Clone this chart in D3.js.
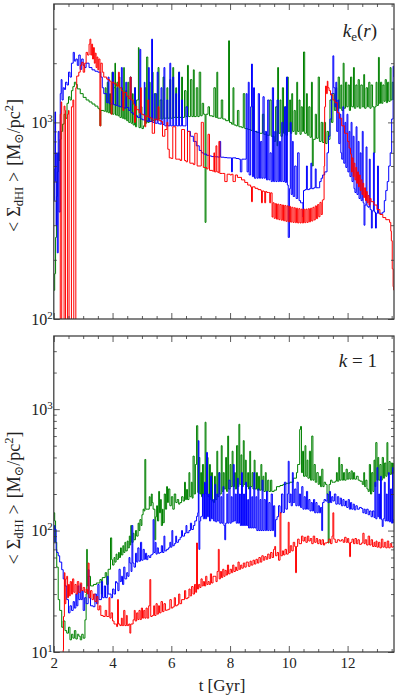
<!DOCTYPE html>
<html>
<head>
<meta charset="utf-8">
<script src="https://cdn.jsdelivr.net/npm/d3@7"></script>
<style>
  body { margin: 0; background: #fff; }
  svg { display: block; }
  svg text { font-family: 'Liberation Serif', 'DejaVu Serif', 'Noto Serif', 'Times New Roman', serif; }
</style>
</head>
<body>
<div id="chart"></div>
<script>
// ---- data: [t (Gyr), <Sigma_dHI> (Msun/pc^2)] ----
const topGreen = [[2.00,140],[2.03,170],[2.06,260],[2.09,420],[2.12,560],[2.15,700],[2.18,640],[2.21,820],[2.25,900],[2.3,980],[2.35,1100],[2.4,1050],[2.45,1250],[2.5,1350],[2.55,1300],[2.6,1450],[2.65,1520],[2.7,1600],[2.75,1560],[2.8,1480],[2.9,1400],[3.0,1340],[3.1,1300],[3.2,1270],[3.3,1240],[3.4,1210],[3.5,1180],[3.55,1160],[3.57,960],[3.6,1150],[3.7,1140],
  [3.75,1500],[3.78,1130],[3.82,1600],[3.85,1120],[3.9,1400],[3.93,1110],[3.98,1800],[4.0,1100],[4.05,1500],[4.08,2000],[4.1,1090],[4.15,1600],[4.18,1080],[4.22,1700],[4.25,1060],[4.3,1500],[4.33,1050],[4.38,1900],[4.4,1040],[4.45,1450],[4.48,1020],[4.52,1600],[4.55,1000],[4.6,1700],[4.63,990],[4.68,1400],[4.7,970],[4.75,1500],[4.78,950],[4.82,1300],[4.88,2400],[4.9,940],[4.95,1200],[5.0,930],[5.05,960],[5.1,1500],[5.13,990],[5.16,2150],[5.2,1000],[5.25,1600],[5.28,1010],[5.35,1800],[5.38,1020],[5.45,1400],[5.5,1030],[5.55,1900],[5.58,1040],[5.62,1300],[5.68,1040],[5.72,1700],[5.75,1050],[5.8,1050],[5.85,1500],[5.88,1050],[5.95,1650],[5.98,1050],[6.05,1900],[6.08,1060],[6.15,1500],[6.18,1060],[6.25,1800],[6.28,1060],[6.35,1700],[6.38,1060],[6.45,1450],[6.5,1070],[6.55,1950],[6.58,1070],[6.65,1650],[6.7,1070],[6.75,1850],[6.78,1070],[6.85,1500],[6.9,1070],[6.95,1800],[7.0,1080],[7.05,1250],[7.1,1100],[7.15,310],[7.18,1100],[7.25,1200],[7.3,1080],[7.4,1070],[7.45,1500],[7.5,1060],[7.55,1800],[7.58,1050],[7.65,1050],[7.7,1300],[7.75,1040],[7.85,1020],[7.95,2600],[7.98,1000],[8.05,980],[8.1,1500],[8.13,970],[8.2,960],[8.25,1150],[8.3,950],[8.4,940],[8.45,1400],[8.5,930],[8.6,920],[8.7,910],[8.75,1200],[8.8,900],[8.9,890],[9.0,880],[9.1,1100],[9.15,870],[9.25,860],[9.35,1300],[9.4,850],[9.5,800],[9.55,1200],[9.6,760],[9.62,1900],[9.65,880],[9.7,1300],[9.73,850],[9.78,1500],[9.82,880],[9.87,1200],[9.9,860],[9.95,1700],[9.98,900],[10.03,1300],[10.06,880],[10.1,1400],[10.13,900],[10.18,1150],[10.22,870],[10.27,1600],[10.3,900],[10.35,1300],[10.38,870],[10.42,1200],[10.46,900],[10.5,2280],[10.54,880],[10.6,1400],[10.63,860],[10.68,1200],[10.72,840],[10.77,1600],[10.8,600],[10.83,820],[10.9,1100],[10.94,830],[11.0,1700],[11.04,800],[11.1,1000],[11.15,790],[11.2,1000],[11.25,780],[11.3,900],[11.35,820],[11.4,1300],[11.45,1000],[11.5,1400],[11.55,1150],[11.6,1500],[11.63,1150],[11.68,1700],[11.72,1180],[11.77,1550],[11.8,1150],[11.85,2000],[11.88,1180],[11.93,1600],[11.97,1200],[12.02,1550],[12.06,1150],[12.1,1700],[12.14,1200],[12.2,1900],[12.23,1180],[12.28,1550],[12.32,1200],[12.36,1650],[12.4,1180],[12.45,1550],[12.5,1200],[12.55,1750],[12.58,1180],[12.63,1500],[12.68,1200],[12.72,1600],[12.76,1180],[12.8,1550],[12.85,1200],[12.9,700],[12.93,1200],[12.97,1600],[13.0,1220],[13.05,2140],[13.08,1250],[13.12,1600],[13.16,1250],[13.2,1550],[13.24,1280],[13.28,1650],[13.32,1260],[13.36,1600],[13.4,1280],[13.45,1900],[13.48,1300],[13.52,1600],[13.57,1300]]

const topBlue = [[2.0,400],[2.02,580],[2.04,1130],[2.06,500],[2.08,300],[2.1,700],[2.12,217],[2.15,900],[2.18,350],[2.22,1400],[2.25,1650],[2.28,1300],[2.32,1500],[2.36,1470],[2.4,1600],[2.45,1550],[2.5,1800],[2.55,1700],[2.6,2000],[2.66,2270],[2.7,2050],[2.75,2100],[2.8,1950],[2.85,2200],[2.9,1860],[2.95,2100],[3.0,1950],[3.05,1900],[3.1,2000],[3.2,1900],[3.3,1850],[3.4,1820],[3.5,1800],[3.6,1700],[3.65,1500],[3.7,1400],[3.8,1260],[3.85,1700],[3.88,1250],[3.95,1240],[4.0,1800],[4.03,1230],[4.1,1220],[4.15,1500],[4.18,1210],[4.25,1200],[4.3,1900],[4.33,1190],[4.4,1180],[4.45,1600],[4.48,1190],[4.55,1150],[4.6,1700],[4.63,1120],[4.7,1100],[4.75,1500],[4.78,1080],[4.85,1060],[4.93,2350],[4.96,1040],[5.02,1030],[5.08,1600],[5.1,1020],[5.18,1010],[5.22,1900],[5.25,1010],[5.33,2650],[5.36,1000],[5.42,1400],[5.45,990],[5.52,1800],[5.55,985],[5.6,980],[5.65,1500],[5.68,975],[5.75,1900],[5.78,960],[5.85,1300],[5.88,960],[5.95,2000],[5.98,960],[6.05,1700],[6.08,960],[6.15,1400],[6.18,960],[6.25,1800],[6.28,960],[6.35,1300],[6.38,960],[6.46,960],[6.5,1200],[6.55,900],[6.65,850],[6.75,800],[6.85,760],[6.95,720],[7.03,700],[7.1,690],[7.2,680],[7.3,675],[7.37,670],[7.5,668],[7.6,665],[7.65,800],[7.68,665],[7.8,662],[7.9,660],[8.0,660],[8.05,560],[8.08,660],[8.2,655],[8.3,650],[8.35,560],[8.4,650],[8.5,650],[8.55,1400],[8.58,560],[8.62,1600],[8.65,540],[8.7,1200],[8.73,1980],[8.76,530],[8.8,1500],[8.83,520],[8.88,900],[8.92,520],[8.96,1400],[9.0,520],[9.04,800],[9.08,520],[9.12,1350],[9.16,520],[9.2,900],[9.24,510],[9.28,1300],[9.32,510],[9.36,700],[9.4,500],[9.44,1500],[9.48,500],[9.52,900],[9.56,500],[9.6,1300],[9.64,500],[9.68,800],[9.72,500],[9.76,1000],[9.8,500],[9.85,1200],[9.88,495],[9.92,1700],[9.95,480],[9.98,260],[10.02,460],[10.05,1000],[10.08,430],[10.12,800],[10.15,420],[10.2,600],[10.25,410],[10.3,700],[10.35,400],[10.4,390],[10.43,390],[10.48,330],[10.5,450],[10.55,455],[10.6,600],[10.63,455],[10.7,460],[10.75,620],[10.78,460],[10.85,465],[10.9,580],[10.93,465],[11.0,465],[11.05,500],[11.1,520],[11.15,540],[11.22,560],[11.3,700],[11.35,850],[11.4,1040],[11.45,1400],[11.5,2180],[11.53,1500],[11.57,1200],[11.6,1600],[11.63,900],[11.67,1300],[11.7,780],[11.74,1100],[11.77,700],[11.8,650],[11.84,1200],[11.87,620],[11.91,1000],[11.94,590],[11.98,1100],[12.01,560],[12.05,900],[12.08,530],[12.12,1000],[12.15,500],[12.19,850],[12.22,460],[12.25,440],[12.29,950],[12.32,430],[12.36,800],[12.39,410],[12.43,700],[12.46,400],[12.5,900],[12.53,390],[12.56,300],[12.59,380],[12.63,750],[12.66,375],[12.7,370],[12.74,650],[12.77,360],[12.81,290],[12.84,355],[12.88,700],[12.91,350],[12.95,290],[12.98,345],[13.02,600],[13.05,345],[13.1,345],[13.15,345],[13.2,350],[13.25,400],[13.3,450],[13.35,500],[13.4,600],[13.45,700],[13.5,1040],[13.55,1930],[13.57,1700]]

const topRed = [[2.15,60],[2.2,60],[2.22,1100],[2.25,1270],[2.27,60],[2.33,60],[2.35,1210],[2.38,1150],[2.4,60],[2.45,60],[2.47,1100],[2.5,1150],[2.52,60],[2.58,60],[2.6,1200],[2.65,1300],[2.68,60],[2.73,60],[2.75,1500],[2.78,1720],[2.85,1800],[2.9,1950],[2.95,2020],[3.0,1800],[3.05,2000],[3.1,2270],[3.15,2200],[3.2,2500],[3.23,2650],[3.26,2200],[3.29,2500],[3.32,2100],[3.35,2400],[3.38,2000],[3.41,2250],[3.44,1900],[3.47,2150],[3.5,1850],[3.53,2100],[3.57,960],[3.6,2000],[3.65,1800],[3.7,1700],[3.8,1660],[3.85,1650],[3.9,1620],[3.95,1100],[3.98,1600],[4.05,1570],[4.14,1530],[4.2,1800],[4.23,1500],[4.3,1450],[4.35,1150],[4.38,1420],[4.48,1360],[4.55,1320],[4.6,1700],[4.63,1300],[4.7,1240],[4.75,1000],[4.78,1210],[4.82,1160],[4.9,1120],[4.95,1500],[4.98,1100],[5.05,1090],[5.1,950],[5.13,1080],[5.16,1070],[5.2,1300],[5.23,1060],[5.3,1050],[5.35,880],[5.4,880],[5.43,1040],[5.5,1030],[5.55,1200],[5.58,1020],[5.65,1010],[5.7,850],[5.75,850],[5.78,920],[5.85,1000],[5.88,730],[5.93,660],[6.0,655],[6.05,950],[6.1,950],[6.15,650],[6.22,650],[6.3,640],[6.35,920],[6.4,920],[6.45,640],[6.5,630],[6.55,900],[6.6,900],[6.63,620],[6.75,610],[6.8,880],[6.85,880],[6.88,600],[6.98,600],[7.02,1000],[7.06,1000],[7.09,590],[7.2,580],[7.25,870],[7.28,870],[7.3,570],[7.4,565],[7.45,700],[7.47,560],[7.52,760],[7.55,560],[7.6,555],[7.62,800],[7.65,550],[7.75,550],[7.82,500],[7.86,500],[7.9,545],[8.0,540],[8.05,545],[8.1,500],[8.14,500],[8.18,540],[8.25,525],[8.39,510],[8.5,495],[8.6,480],[8.7,470],[8.73,395],[8.76,470],[8.85,462],[8.95,455],[9.05,450],[9.07,390],[9.1,448],[9.15,445],[9.18,390],[9.21,445],[9.25,440],[9.3,440],[9.35,390],[9.38,438],
  [9.43,330],[9.46,390],[9.5,325],[9.54,386],[9.58,322],[9.62,384],[9.66,320],[9.7,382],[9.74,318],[9.78,380],[9.82,316],[9.86,378],[9.9,314],[9.94,376],[9.98,312],[10.02,374],[10.06,311],[10.1,370],[10.14,310],[10.18,368],[10.22,309],[10.26,366],[10.3,308],[10.34,364],[10.38,308],[10.42,362],[10.46,308],[10.5,362],[10.54,309],[10.58,362],[10.62,310],[10.66,364],[10.7,312],[10.74,366],[10.78,315],[10.82,370],[10.86,319],[10.9,376],[10.94,324],[10.98,382],[11.02,331],[11.06,392],[11.1,340],[11.14,402],[11.17,405],
  [11.2,600],[11.22,1200],[11.25,1530],[11.28,1400],[11.31,1620],[11.33,1500],[11.37,1450],[11.42,1380],[11.5,1300],[11.57,1260],[11.65,1120],[11.72,1050],[11.8,960],[11.9,880],[12.0,800],[12.05,740],[12.1,690],[12.13,560],[12.16,660],[12.19,530],[12.22,620],[12.25,510],[12.28,590],[12.31,490],[12.34,560],[12.37,470],[12.4,540],[12.43,450],[12.46,510],[12.49,430],[12.52,490],[12.55,415],[12.58,465],[12.61,400],[12.64,445],[12.67,390],[12.7,425],[12.73,380],[12.76,410],[12.8,395],[12.9,380],[13.0,360],[13.1,340],[13.2,328],[13.3,320],[13.43,310],[13.47,280],[13.49,250],[13.52,180],[13.55,146],[13.57,140]]

const botGreen = [[2.0,140],[2.03,120],[2.06,80],[2.1,50],[2.15,27],[2.2,22],[2.27,16],[2.32,18],[2.38,15],[2.44,14.3],[2.5,16],[2.55,12.6],[2.6,14],[2.65,13],[2.7,15],[2.75,12.8],[2.8,14],[2.85,13.5],[2.9,12.6],[2.95,14],[3.0,13],[3.06,18.4],[3.1,30],[3.12,70],[3.14,35],[3.17,42],[3.25,35],[3.35,36],[3.45,37],[3.57,39.5],[3.62,30],[3.65,41],[3.75,45],[3.8,36],[3.85,48],[3.93,87],[3.97,57.6],[4.0,52],[4.05,60],[4.08,55],[4.12,64],[4.15,58],[4.2,66],[4.23,60],[4.27,72],[4.3,63],[4.35,75],[4.38,66],[4.42,80],[4.45,68],[4.5,82],[4.53,72],[4.57,90],[4.6,76],[4.62,110],[4.65,80],[4.7,95],[4.73,84],[4.78,100],[4.82,90],[4.87,115],[4.9,100],[4.93,123],[4.97,110],[5.0,135],[5.04,150],[5.07,145],[5.1,385],[5.13,150],[5.2,150],[5.25,190],[5.28,160],[5.32,200],[5.35,170],[5.38,150],[5.44,84],[5.47,130],[5.5,160],[5.53,120],[5.57,210],[5.6,140],[5.63,180],[5.66,110],[5.7,150],[5.72,116],[5.76,200],[5.8,150],[5.84,230],[5.87,170],[5.9,220],[5.95,160],[6.0,190],[6.05,150],[6.1,200],[6.15,170],[6.2,180],[6.25,165],[6.29,170],[6.35,190],[6.4,175],[6.45,250],[6.48,180],[6.52,218],[6.55,180],[6.6,300],[6.63,190],[6.68,250],[6.71,185],[6.74,410],[6.78,200],[6.82,350],[6.86,730],[6.9,206],[6.94,400],[6.97,200],[7.0,300],[7.03,190],[7.06,350],[7.1,200],[7.15,780],[7.18,200],[7.22,400],[7.25,190],[7.3,350],[7.33,180],[7.37,300],[7.4,175],[7.43,170],[7.47,280],[7.5,180],[7.55,450],[7.58,190],[7.62,300],[7.65,200],[7.7,500],[7.73,210],[7.77,300],[7.8,220],[7.85,400],[7.88,210],[7.92,600],[7.95,220],[8.0,350],[8.03,230],[8.07,450],[8.1,230],[8.15,300],[8.18,220],[8.22,500],[8.26,230],[8.3,750],[8.33,240],[8.37,420],[8.4,230],[8.45,550],[8.48,240],[8.52,380],[8.55,230],[8.6,300],[8.63,220],[8.67,450],[8.7,230],[8.75,300],[8.78,220],[8.82,380],[8.85,220],[8.9,300],[8.93,215],[8.97,280],[9.0,215],[9.05,350],[9.08,215],[9.12,280],[9.15,210],[9.2,300],[9.23,210],[9.28,260],[9.32,210],[9.38,260],[9.42,210],[9.5,215],[9.58,230],[9.7,235],[9.8,240],[9.9,245],[10.03,250],[10.15,270],[10.26,300],[10.3,350],[10.37,680],[10.4,720],[10.43,300],[10.47,450],[10.5,280],[10.55,500],[10.58,280],[10.62,380],[10.65,270],[10.7,450],[10.74,260],[10.78,600],[10.82,260],[10.86,350],[10.9,250],[10.95,300],[11.0,240],[11.04,280],[11.08,230],[11.12,320],[11.16,230],[11.2,250],[11.25,240],[11.3,200],[11.34,79],[11.37,240],[11.42,260],[11.47,250],[11.52,250],[11.58,255],[11.62,300],[11.65,255],[11.7,400],[11.73,260],[11.78,350],[11.82,260],[11.86,300],[11.9,260],[11.95,320],[11.99,265],[12.04,300],[12.08,265],[12.12,310],[12.16,265],[12.2,300],[12.24,265],[12.3,280],[12.36,260],[12.42,255],[12.5,240],[12.55,300],[12.58,230],[12.62,260],[12.66,220],[12.7,210],[12.74,350],[12.78,200],[12.82,300],[12.86,210],[12.9,380],[12.93,230],[12.96,530],[13.0,260],[13.03,400],[13.06,260],[13.1,350],[13.14,260],[13.18,400],[13.22,270],[13.26,360],[13.3,280],[13.34,530],[13.37,290],[13.41,370],[13.45,290],[13.49,360],[13.53,300],[13.57,360]]

const botBlue = [[2.0,80],[2.02,110],[2.04,102],[2.08,70],[2.1,66],[2.15,62],[2.2,55],[2.27,47.6],[2.32,40],[2.38,35],[2.44,27],[2.5,21],[2.55,24],[2.6,22],[2.66,26],[2.7,23],[2.75,30],[2.78,24],[2.82,35],[2.85,27],[2.9,36],[2.93,27],[2.97,32],[3.0,22],[3.05,28],[3.1,25],[3.17,47.6],[3.2,28],[3.25,24],[3.34,23.6],[3.4,30],[3.45,25],[3.5,36],[3.54,27],[3.57,27],[3.62,38],[3.66,28],[3.72,35],[3.76,28],[3.82,42],[3.85,30],[3.91,30],[3.95,28],[4.0,33],[4.05,30],[4.1,38],[4.14,37],[4.18,32],[4.22,48],[4.26,38],[4.3,42],[4.34,36],[4.38,50],[4.42,40],[4.48,45],[4.52,42],[4.56,60],[4.59,54],[4.63,46],[4.66,110],[4.69,54],[4.73,50],[4.78,65],[4.82,55],[4.86,72],[4.9,56],[4.95,80],[4.99,57],[5.04,70],[5.08,58],[5.12,65],[5.16,57.6],[5.2,62],[5.25,60],[5.3,63],[5.35,64],[5.38,123],[5.41,66],[5.45,80],[5.48,64],[5.52,72],[5.56,65],[5.61,66],[5.66,75],[5.7,66],[5.75,90],[5.78,68],[5.84,70],[5.9,72],[5.95,80],[5.98,73],[6.02,100],[6.05,75],[6.1,78],[6.15,90],[6.18,80],[6.24,84],[6.3,88],[6.35,100],[6.38,90],[6.45,95],[6.5,110],[6.53,96],[6.6,100],[6.65,115],[6.69,102],[6.75,110],[6.8,120],[6.86,131],[6.9,140],[6.92,550],[6.94,70],[6.97,120],[7.0,130],[7.03,131],[7.06,200],[7.09,125],[7.13,250],[7.16,125],[7.2,440],[7.23,130],[7.27,200],[7.3,120],[7.34,280],[7.37,125],[7.41,180],[7.44,120],[7.48,240],[7.51,118],[7.55,200],[7.58,120],[7.62,300],[7.65,115],[7.69,190],[7.72,115],[7.76,230],[7.79,110],[7.82,84],[7.85,115],[7.89,200],[7.92,115],[7.96,260],[8.0,115],[8.04,190],[8.07,118],[8.11,350],[8.14,120],[8.18,200],[8.21,115],[8.25,270],[8.28,115],[8.32,200],[8.35,110],[8.39,300],[8.42,110],[8.46,200],[8.49,110],[8.53,250],[8.56,110],[8.6,180],[8.63,105],[8.67,230],[8.7,105],[8.74,190],[8.77,105],[8.81,300],[8.84,105],[8.88,190],[8.91,100],[8.95,220],[8.98,100],[9.02,180],[9.05,100],[9.09,260],[9.12,100],[9.16,180],[9.2,100],[9.24,210],[9.28,100],[9.32,170],[9.36,100],[9.4,200],[9.44,100],[9.48,160],[9.52,89],[9.55,123],[9.6,130],[9.65,160],[9.7,140],[9.75,200],[9.8,141],[9.85,250],[9.9,150],[9.95,200],[9.98,372],[10.01,170],[10.05,200],[10.08,160],[10.12,300],[10.15,170],[10.2,220],[10.24,160],[10.28,250],[10.32,160],[10.36,200],[10.4,155],[10.44,230],[10.48,150],[10.52,190],[10.56,150],[10.6,210],[10.64,150],[10.68,180],[10.72,145],[10.76,170],[10.8,145],[10.84,180],[10.88,140],[10.92,170],[10.96,140],[11.0,160],[11.04,140],[11.08,155],[11.12,100],[11.15,170],[11.2,180],[11.25,175],[11.3,200],[11.33,170],[11.38,210],[11.42,170],[11.46,190],[11.5,175],[11.55,200],[11.6,165],[11.65,190],[11.7,165],[11.75,185],[11.79,160],[11.84,180],[11.88,160],[11.93,175],[11.97,155],[12.02,180],[12.06,150],[12.1,170],[12.14,150],[12.19,165],[12.23,148],[12.28,160],[12.33,150],[12.4,155],[12.47,152],[12.52,140],[12.56,150],[12.6,138],[12.65,150],[12.7,135],[12.75,145],[12.8,130],[12.85,145],[12.9,128],[12.93,250],[12.96,125],[13.0,330],[13.03,130],[13.06,200],[13.09,125],[13.12,280],[13.15,123],[13.18,108],[13.21,125],[13.25,250],[13.28,120],[13.32,200],[13.35,120],[13.39,300],[13.42,118],[13.46,220],[13.5,115],[13.53,330],[13.55,123],[13.57,115]]

const botRed = [[2.28,9],[2.32,10.4],[2.33,19.6],[2.36,45],[2.38,25],[2.41,40],[2.44,42],[2.47,28],[2.5,36],[2.53,29],[2.56,38],[2.6,30],[2.64,40],[2.68,31],[2.72,36],[2.76,30],[2.8,38],[2.85,31],[2.9,37],[2.95,32],[3.0,34],[3.05,31],[3.1,33],[3.12,32.6],[3.15,30],[3.17,54],[3.2,28],[3.25,32],[3.3,27],[3.35,30],[3.4,26],[3.46,28.6],[3.5,22.2],[3.55,24],[3.6,20],[3.68,19.6],[3.75,22],[3.8,19.6],[3.85,19.6],[3.88,28],[3.91,19],[3.95,21],[4.0,18],[4.05,17],[4.1,17],[4.14,16.2],[4.17,27],[4.2,17],[4.25,16.5],[4.3,19],[4.33,16.5],[4.38,22],[4.42,16.5],[4.47,20],[4.5,16.5],[4.55,17],[4.59,14.3],[4.62,17],[4.7,18.4],[4.74,22],[4.77,18],[4.82,21],[4.86,18.5],[4.9,22],[4.94,18.5],[4.98,23],[5.02,19],[5.06,22],[5.1,19],[5.14,23],[5.18,19],[5.23,24],[5.27,39.5],[5.3,19.6],[5.35,20],[5.4,24],[5.43,20],[5.48,25],[5.52,20.5],[5.56,24],[5.6,21],[5.65,26],[5.7,21.5],[5.75,25],[5.8,22],[5.84,22.2],[5.9,22.5],[5.95,27],[6.0,23],[6.05,23.5],[6.1,28],[6.14,24],[6.2,24.5],[6.25,30],[6.29,25],[6.35,27],[6.4,27],[6.45,32],[6.49,27.5],[6.55,28],[6.6,33],[6.64,29],[6.69,34.6],[6.74,30],[6.79,36],[6.83,31],[6.86,79],[6.89,33],[6.93,36],[6.97,34],[7.01,40],[7.05,35],[7.09,38],[7.13,35],[7.17,42],[7.21,36],[7.25,38],[7.29,36],[7.33,44],[7.37,37],[7.42,42],[7.48,42],[7.52,38],[7.56,46],[7.6,70],[7.63,40],[7.67,46],[7.71,41],[7.75,48],[7.79,42],[7.83,47],[7.87,43],[7.91,52],[7.95,44],[8.0,48],[8.05,45],[8.09,52],[8.13,46],[8.18,50],[8.22,47],[8.27,55],[8.31,48],[8.36,52],[8.4,49],[8.45,54],[8.5,50],[8.55,55],[8.62,50.8],[8.68,56],[8.72,52],[8.78,57],[8.83,53],[8.88,58],[8.93,54],[8.98,60],[9.03,55],[9.08,62],[9.13,57],[9.18,61],[9.23,58],[9.28,64],[9.33,59],[9.38,66],[9.43,60],[9.48,70],[9.52,74],[9.55,62],[9.6,66],[9.65,57],[9.7,140],[9.73,62],[9.78,68],[9.82,63],[9.87,70],[9.92,64],[9.98,117],[10.01,66],[10.05,75],[10.1,68],[10.15,80],[10.2,74],[10.23,45],[10.26,74],[10.3,85],[10.35,78],[10.43,90],[10.48,82],[10.53,88],[10.58,80],[10.63,90],[10.68,82],[10.73,86],[10.78,78],[10.83,90],[10.88,80],[10.93,86],[10.98,78],[11.03,84],[11.08,77],[11.13,84],[11.18,76],[11.22,79],[11.3,80],[11.36,85],[11.42,78],[11.47,90],[11.5,140],[11.53,85],[11.58,80],[11.65,84],[11.72,82],[11.79,84],[11.85,80],[11.9,88],[11.95,80],[12.0,86],[12.04,79],[12.07,61],[12.1,80],[12.15,85],[12.2,78],[12.25,86],[12.3,78],[12.35,84],[12.4,77],[12.47,79],[12.52,95],[12.56,78],[12.6,84],[12.65,76],[12.7,90],[12.75,76],[12.8,84],[12.85,74],[12.9,80],[12.93,74],[12.97,82],[13.0,73],[13.05,80],[13.1,72],[13.15,85],[13.2,73],[13.25,80],[13.3,72],[13.35,82],[13.4,72],[13.45,78],[13.5,73],[13.55,74],[13.57,74]]

// axis ticks
const xMajorTicks = [2, 4, 6, 8, 10, 12]
const xMinorTicks = [2.5, 3, 3.5, 4.5, 5, 5.5, 6.5, 7, 7.5, 8.5, 9, 9.5, 10.5, 11, 11.5, 12.5, 13, 13.5]
const topYMajor = [100, 1000]
const botYMajor = [10, 100, 1000]
const xDomain = [2, 13.58]

// ---- layout ----
const W = 399, H = 698
const left = 53.8, right = 394
const COLORS = { green: '#008000', blue: '#0000ff', red: '#ff0000' }

const panels = [
  { id: 'top', y0: 4, y1: 319, domain: [100, 4000], majors: topYMajor,
    series: [[topGreen, COLORS.green], [topBlue, COLORS.blue], [topRed, COLORS.red]],
    xLabels: false, labelShift: 4 },
  { id: 'bot', y0: 336, y1: 652, domain: [10, 4000], majors: botYMajor,
    series: [[botGreen, COLORS.green], [botBlue, COLORS.blue], [botRed, COLORS.red]],
    xLabels: true, labelShift: 4 }
]

const svg = d3.select('#chart').append('svg')
  .attr('width', W).attr('height', H)
  .attr('viewBox', `0 0 ${W} ${H}`)

const x = d3.scaleLinear().domain(xDomain).range([left, right])

function minorLogTicks(domain) {
  const out = []
  for (let d = 1; d <= domain[1]; d *= 10) {
    for (let k = 2; k <= 9; k++) {
      const v = k * d
      if (v > domain[0] && v < domain[1]) out.push(v)
    }
  }
  return out
}

function styleTicks(g) {
  g.select('.domain').remove()
  g.selectAll('.tick line').attr('stroke', '#333').attr('stroke-width', 0.8)
}

panels.forEach(p => {
  const y = d3.scaleLog().domain(p.domain).range([p.y1, p.y0])
  const g = svg.append('g').attr('class', 'panel-' + p.id)

  // clip
  const clipId = 'clip-' + p.id
  svg.append('clipPath').attr('id', clipId)
    .append('rect').attr('x', left).attr('y', p.y0)
    .attr('width', right - left).attr('height', p.y1 - p.y0)

  // lines (snapshot outputs, so drawn as steps)
  const line = d3.line().curve(d3.curveStepAfter).x(d => x(d[0])).y(d => y(d[1]))
  const linesG = g.append('g').attr('clip-path', `url(#${clipId})`)
  p.series.forEach(([data, color]) => {
    linesG.append('path').datum(data)
      .attr('d', line)
      .attr('fill', 'none')
      .attr('stroke', color)
      .attr('stroke-width', 1)
  })

  // x axes (bottom and top), ticks inward
  const minorY = minorLogTicks(p.domain)
  g.append('g').attr('transform', `translate(0,${p.y1})`)
    .call(d3.axisBottom(x).tickValues(xMinorTicks).tickSize(-3).tickFormat(''))
    .call(styleTicks)
  const xb = g.append('g').attr('transform', `translate(0,${p.y1})`)
    .call(d3.axisBottom(x).tickValues(xMajorTicks).tickSize(-6).tickPadding(5)
      .tickFormat(p.xLabels ? d3.format('d') : ''))
    .call(styleTicks)
  xb.attr('font-family', null)
  xb.selectAll('.tick text').attr('fill', '#222').attr('font-size', '15px')

  g.append('g').attr('transform', `translate(0,${p.y0})`)
    .call(d3.axisTop(x).tickValues(xMinorTicks).tickSize(-3).tickFormat(''))
    .call(styleTicks)
  g.append('g').attr('transform', `translate(0,${p.y0})`)
    .call(d3.axisTop(x).tickValues(xMajorTicks).tickSize(-6).tickFormat(''))
    .call(styleTicks)

  // y axes (left and right), ticks inward
  g.append('g').attr('transform', `translate(${left},0)`)
    .call(d3.axisLeft(y).tickValues(minorY).tickSize(-3).tickFormat(''))
    .call(styleTicks)
  const yl = g.append('g').attr('transform', `translate(${left},0)`)
    .call(d3.axisLeft(y).tickValues(p.majors).tickSize(-6).tickPadding(1).tickFormat(''))
    .call(styleTicks)
  yl.attr('font-family', null)
  yl.selectAll('.tick text').each(function (d) {
    const t = d3.select(this).attr('fill', '#222').attr('font-size', '16px')
    t.append('tspan').text('10')
    t.append('tspan').attr('font-size', '11px').attr('dy', '-6').text(Math.round(Math.log10(d)))
  })

  g.append('g').attr('transform', `translate(${right},0)`)
    .call(d3.axisRight(y).tickValues(minorY).tickSize(-3).tickFormat(''))
    .call(styleTicks)
  g.append('g').attr('transform', `translate(${right},0)`)
    .call(d3.axisRight(y).tickValues(p.majors).tickSize(-6).tickFormat(''))
    .call(styleTicks)

  // frame
  g.append('rect')
    .attr('x', left).attr('y', p.y0)
    .attr('width', right - left).attr('height', p.y1 - p.y0)
    .attr('fill', 'none').attr('stroke', '#333').attr('stroke-width', 1.2)

  // y label
  const cy = (p.y0 + p.y1) / 2 + p.labelShift
  const lab = svg.append('text')
    .attr('transform', `translate(20,${cy}) rotate(-90)`)
    .attr('text-anchor', 'middle')
    .attr('font-size', '18px').attr('fill', '#222')
  lab.append('tspan').text('<')
  lab.append('tspan').attr('dx', 5).text('Σ')
  lab.append('tspan').attr('font-size', '12.5px').attr('dy', 3).text('dHI')
  lab.append('tspan').attr('dy', -3).attr('dx', 5).text('>')
  lab.append('tspan').attr('dx', 6).text('[M')
  lab.append('tspan').attr('font-size', '12.5px').attr('dy', 3).text('⊙')
  lab.append('tspan').attr('dy', -3).text('/pc')
  lab.append('tspan').attr('font-size', '12.5px').attr('dy', -7).text('2')
  lab.append('tspan').attr('dy', 7).text(']')
})

// panel annotations
const ann1 = svg.append('text')
  .attr('x', 377).attr('y', 37).attr('text-anchor', 'end')
  .attr('font-size', '19px').attr('fill', '#222')
ann1.append('tspan').attr('font-style', 'italic').text('k')
ann1.append('tspan').attr('font-size', '13px').attr('dy', 4).text('e')
ann1.append('tspan').attr('dy', -4).text('(')
ann1.append('tspan').attr('font-style', 'italic').text('r')
ann1.append('tspan').text(')')

const ann2 = svg.append('text')
  .attr('x', 377).attr('y', 367).attr('text-anchor', 'end')
  .attr('font-size', '19px').attr('fill', '#222')
ann2.append('tspan').attr('font-style', 'italic').text('k')
ann2.append('tspan').text(' = 1')

// x label
svg.append('text')
  .attr('x', 222).attr('y', 691).attr('text-anchor', 'middle')
  .attr('font-size', '17px').attr('fill', '#222')
  .text('t [Gyr]')
</script>
</body>
</html>
